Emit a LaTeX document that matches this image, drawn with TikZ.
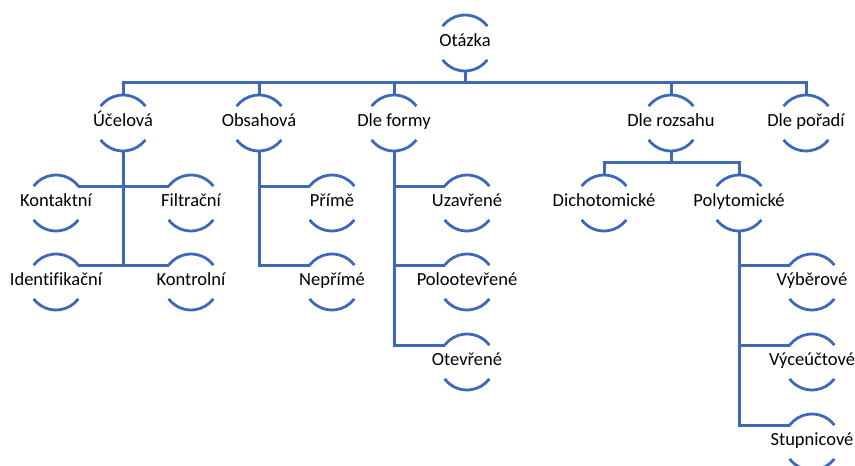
\documentclass[tikz,border=0pt]{standalone}
\usepackage{fontspec}
\setmainfont{Carlito}[Ligatures=NoCommon]
\definecolor{treeblue}{RGB}{62,104,184}
\begin{document}
\begin{tikzpicture}[x=1pt,y=1pt,
  item/.style={rectangle, minimum width=46pt, minimum height=56pt,
    inner sep=0pt, outer sep=0pt, font=\fontsize{18.5}{22}\selectfont,
    text height=0.644em, text depth=0pt, text=black},
  link/.style={draw=treeblue, line width=3pt},
  rim/.style={draw=treeblue, line width=2.8pt}]
\useasboundingbox (0,0) rectangle (855,-466);
\clip (0,0) rectangle (855,-466);

% root
\node[item] (otazka) at (465,-43) {Otázka};
% first level
\node[item] (ucel)   at (123,-123) {Účelová};
\node[item] (obsah)  at (259,-123) {Obsahová};
\node[item] (forma)  at (394,-123) {Dle formy};
\node[item] (rozsah) at (671,-123) {Dle rozsahu};
\node[item] (poradi) at (806,-123) {Dle pořadí};
% under Účelová
\node[item] (kont)  at (56,-203)  {Kontaktní};
\node[item] (filt)  at (191,-203) {Filtrační};
\node[item] (ident) at (56,-282)  {Identifikační};
\node[item] (kontr) at (191,-282) {Kontrolní};
% under Obsahová
\node[item] (prime)   at (332,-203) {Přímě};
\node[item] (neprime) at (332,-282) {Nepřímé};
% under Dle formy
\node[item] (uzav) at (467,-203) {Uzavřené};
\node[item] (polo) at (467,-282) {Polootevřené};
\node[item] (otev) at (467,-362) {Otevřené};
% under Dle rozsahu
\node[item] (dich) at (604,-203) {Dichotomické};
\node[item] (poly) at (739,-203) {Polytomické};
% under Polytomické
\node[item] (vyber) at (812,-282) {Výběrové};
\node[item] (vyceu) at (812,-362) {Výceúčtové};
\node[item] (stup)  at (812,-442) {Stupnicové};

% arcs above and below every label
\foreach \n in {otazka,ucel,obsah,forma,rozsah,poradi,kont,filt,ident,kontr,
                prime,neprime,uzav,polo,otev,dich,poly,vyber,vyceu,stup} {
  \draw[rim] ([shift={(37:28)}]\n.center) arc[start angle=37,end angle=143,radius=28];
  \draw[rim] ([shift={(217:28)}]\n.center) arc[start angle=217,end angle=323,radius=28];
}

% root bus
\foreach \c in {ucel,obsah,forma,rozsah,poradi}
  \draw[link] (otazka.south) -- ++(0,-11) -| (\c.north);

% Účelová: children on both sides of the stem
\draw[link] (ucel.south) |- ([shift={(37:28)}]kont.center);
\draw[link] (ucel.south) |- ([shift={(143:28)}]filt.center);
\draw[link] (ucel.south) |- ([shift={(37:28)}]ident.center);
\draw[link] (ucel.south) |- ([shift={(143:28)}]kontr.center);

% Obsahová
\foreach \c in {prime,neprime}
  \draw[link] (obsah.south) |- ([shift={(143:28)}]\c.center);

% Dle formy
\foreach \c in {uzav,polo,otev}
  \draw[link] (forma.south) |- ([shift={(143:28)}]\c.center);

% Dle rozsahu
\foreach \c in {dich,poly}
  \draw[link] (rozsah.south) -- ++(0,-11) -| (\c.north);

% Polytomické
\foreach \c in {vyber,vyceu,stup}
  \draw[link] (poly.south) |- ([shift={(143:28)}]\c.center);
\end{tikzpicture}
\end{document}
